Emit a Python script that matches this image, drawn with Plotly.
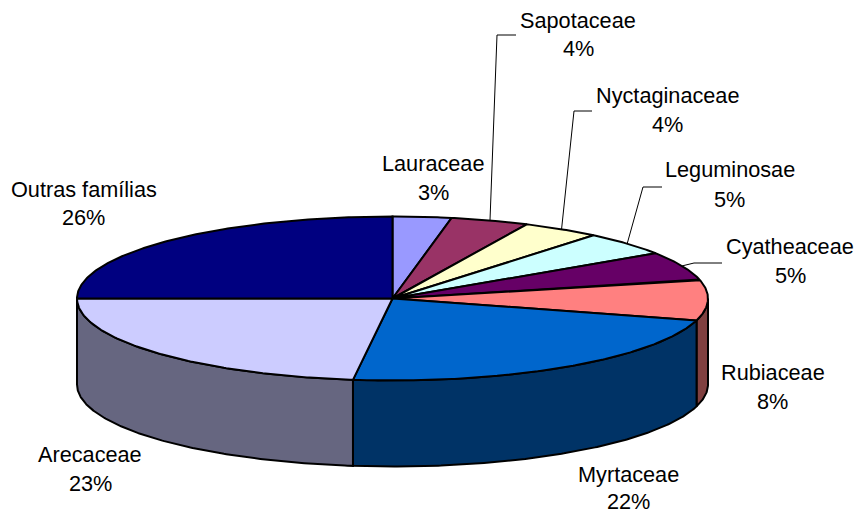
import math
import plotly.graph_objects as go

# ---- data ----
categories = ["Lauraceae", "Sapotaceae", "Nyctaginaceae", "Leguminosae", "Cyatheaceae",
              "Rubiaceae", "Myrtaceae", "Arecaceae", "Outras famílias"]
slice_shares = [3.0, 4.0, 4.0, 4.7, 5.6, 8.0, 22.7, 23.0, 25.0]
printed_pct = [3, 4, 4, 5, 5, 8, 22, 23, 26]
top_colors = ["#9999FF", "#993366", "#FFFFCC", "#CCFFFF", "#660066",
              "#FF8080", "#0066CC", "#CCCCFF", "#000080"]
side_colors = ["#4D4D80", "#4D1A33", "#808066", "#668080", "#330033",
               "#804040", "#003366", "#666680", "#000040"]

# ---- layout of the drawing ----
W, H = 857, 513
CX, CY, RX, RY, DEPTH = 392.5, 298.5, 315.5, 82, 86
FONT = "Liberation Sans, Arial, sans-serif"
FONT_SIZE = 21.7
LINE_W = 2
label_pos = {  # centre x, y of name line, y of percent line
    "Lauraceae": (433, 163, 192), "Sapotaceae": (578, 20, 48),
    "Nyctaginaceae": (667, 95, 124), "Leguminosae": (729.5, 169, 199),
    "Cyatheaceae": (790, 246, 275), "Rubiaceae": (772.5, 372, 401),
    "Myrtaceae": (628, 474, 501), "Arecaceae": (90, 454, 483),
    "Outras famílias": (83.5, 189, 217),
}
leaders = {  # elbow and end of the leader line
    "Sapotaceae": [(497, 35), (516, 35)],
    "Nyctaginaceae": [(574, 111), (592, 111)],
    "Leguminosae": [(643, 187), (662, 187)],
    "Cyatheaceae": [(694, 263), (722, 263)],
}


def rim(deg, dy=0):
    a = math.radians(deg)
    return CX + RX * math.sin(a), CY - RY * math.cos(a) + dy


def arc(a0, a1, dy=0):
    n = max(2, int(abs(a1 - a0) * 2))
    return [rim(a0 + (a1 - a0) * i / n, dy) for i in range(n + 1)]


total = sum(slice_shares)
edges = [0.0]
for v in slice_shares:
    edges.append(edges[-1] + v / total * 360)

fig = go.Figure()


def poly(points, fill, width=LINE_W):
    xs = [p[0] for p in points]
    ys = [p[1] for p in points]
    fig.add_trace(go.Scatter(x=xs, y=ys, mode="lines", fill="toself", fillcolor=fill,
                             line=dict(color="black", width=width), hoverinfo="skip",
                             showlegend=False))


# side walls of the visible front half
for i in range(len(categories)):
    a0, a1 = max(edges[i], 90), min(edges[i + 1], 270)
    if a1 > a0:
        poly(arc(a0, a1) + arc(a1, a0, DEPTH) + [rim(a0)], side_colors[i])

# top slices
for i in range(len(categories)):
    poly([(CX, CY)] + arc(edges[i], edges[i + 1]) + [(CX, CY)], top_colors[i])

# leader lines from the middle of the slice rim
for i, name in enumerate(categories):
    if name in leaders:
        start = rim((edges[i] + edges[i + 1]) / 2)
        pts = [start] + leaders[name]
        fig.add_trace(go.Scatter(x=[p[0] for p in pts], y=[p[1] for p in pts], mode="lines",
                                 line=dict(color="black", width=1), hoverinfo="skip",
                                 showlegend=False))

# labels
for name, pct in zip(categories, printed_pct):
    x, y1, y2 = label_pos[name]
    for text, y in ((name, y1), (f"{pct}%", y2)):
        fig.add_annotation(x=x, y=y, text=text, showarrow=False, xanchor="center",
                           yanchor="middle", borderpad=0,
                           font=dict(family=FONT, size=FONT_SIZE, color="black"))

fig.update_layout(
    width=W, height=H, autosize=False, margin=dict(l=0, r=0, t=0, b=0),
    paper_bgcolor="white", plot_bgcolor="white", showlegend=False,
    xaxis=dict(range=[0, W], visible=False, fixedrange=True),
    yaxis=dict(range=[H, 0], visible=False, fixedrange=True),
)
fig.write_html("out.html", config={"displayModeBar": False},
               post_script="document.body.style.margin='0';document.body.style.overflow='hidden';")
